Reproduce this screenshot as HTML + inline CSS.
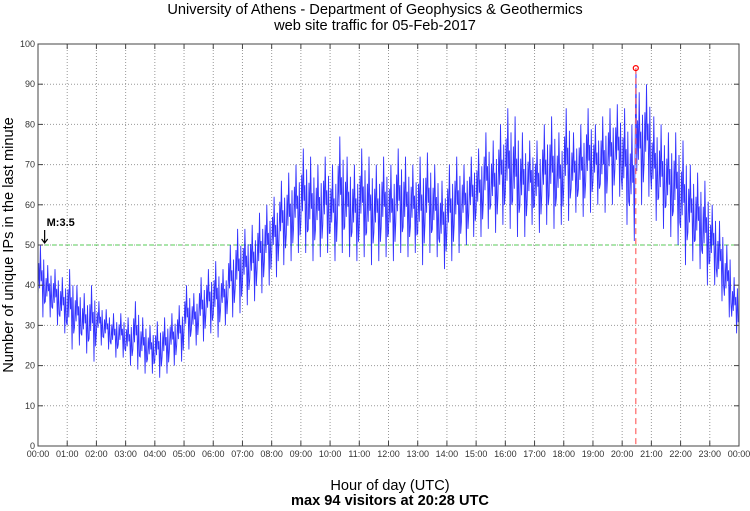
<!DOCTYPE html>
<html><head><meta charset="utf-8"><style>
body{margin:0;background:#fff;}
svg{display:block;font-family:"Liberation Sans",sans-serif;}
</style></head><body>
<svg id="chart" width="750" height="511" viewBox="0 0 750 511">
<text x="375" y="14" font-size="14.6" text-anchor="middle">University of Athens - Department of Geophysics &amp; Geothermics</text>
<text x="375" y="30" font-size="14.6" text-anchor="middle">web site traffic for 05-Feb-2017</text>
<g id="grid"></g>
<g id="marks"></g>
<rect x="38" y="44" width="701" height="402" fill="none" stroke="#444" stroke-width="1"/>
<g id="ticks"></g>
<text transform="translate(13,245) rotate(-90)" font-size="14.6" text-anchor="middle">Number of unique IPs in the last minute</text>
<text x="390" y="490" font-size="14.6" text-anchor="middle">Hour of day (UTC)</text>
<text x="390" y="505" font-size="14.6" text-anchor="middle" font-weight="bold">max 94 visitors at 20:28 UTC</text>
</svg>
<script>
const yTicks=[0,10,20,30,40,50,60,70,80,90,100];
const xTickLabels=["00:00","01:00","02:00","03:00","04:00","05:00","06:00","07:00","08:00","09:00","10:00","11:00","12:00","13:00","14:00","15:00","16:00","17:00","18:00","19:00","20:00","21:00","22:00","23:00","00:00"];
// 15-minute slots: low and high of visitors
const lows=[32,32,30,28, 24,25,23,21, 25,24,22,22, 20,19,18,18, 17,18,20,21, 24,25,26,28, 27,30,32,33, 35,36,38,40, 42,45,46,48, 48,46,47,48, 46,48,47,46, 47,45,46,47, 46,48,47,48, 45,48,47,44, 46,48,50,52, 52,54,53,55, 54,52,52,55, 53,55,54,55, 56,58,57,58, 60,58,60,62, 55,51,60,62, 56,54,52,50, 45,46,44,40, 40,36,32,28];
const highs=[50,45,44,42, 44,40,38,40, 36,34,33,33, 32,36,32,30, 31,32,33,35, 40,38,42,44, 46,44,50,54, 54,55,58,60, 62,66,68,70, 74,72,70,72, 70,77,72,70, 74,72,70,72, 70,74,72,70, 72,73,70,66, 70,72,70,72, 74,78,76,80, 84,82,78,76, 76,80,82,78, 84,78,80,84, 80,82,84,85, 84,80,88,90, 82,80,78,78, 76,70,68,66, 60,56,50,42];
const maxValue=94, maxHour=20+28/60, thresholdValue=50, quakeHour=0.33, quakeLabel="M:3.5";

const X0=38,X1=739,Y0=446,Y1=44;
const xs=h=>X0+(X1-X0)*h/24;
const ys=v=>Y0-(Y0-Y1)*v/100;
const NS="http://www.w3.org/2000/svg";
function mk(tag,attrs,parent){const e=document.createElementNS(NS,tag);for(const k in attrs)e.setAttribute(k,attrs[k]);parent.appendChild(e);return e;}
const grid=document.getElementById('grid'),ticks=document.getElementById('ticks'),marks=document.getElementById('marks');
yTicks.forEach(v=>{
 const l=mk('line',{x1:X0,x2:X1,y1:ys(v),y2:ys(v),stroke:'#999','stroke-dasharray':'1,2'},grid);
 
 
 mk('line',{x1:X0,x2:X0+5,y1:ys(v),y2:ys(v),stroke:'#444'},ticks);
 mk('line',{x1:X1-5,x2:X1,y1:ys(v),y2:ys(v),stroke:'#444'},ticks);
 const t=mk('text',{x:X0-3,y:ys(v)+3,'font-size':9,'text-anchor':'end',fill:'#333'},ticks);
 t.textContent=v;
 
 
});
xTickLabels.forEach((lab,i)=>{
 const x=xs(i);
 const l=mk('line',{x1:x,x2:x,y1:Y1,y2:Y0,stroke:'#999','stroke-dasharray':'1,2'},grid);
 
 
 mk('line',{x1:x,x2:x,y1:Y0-5,y2:Y0,stroke:'#444'},ticks);
 mk('line',{x1:x,x2:x,y1:Y1,y2:Y1+5,stroke:'#444'},ticks);
 const t=mk('text',{x:x,y:Y0+11,'font-size':9,'text-anchor':'middle',fill:'#333'},ticks);
 t.textContent=lab;
 
 
});
// threshold
const th=mk('line',{x1:X0,x2:X1,y1:ys(thresholdValue),y2:ys(thresholdValue),stroke:'#5c5','stroke-dasharray':'4,3'},marks);


// series
let pts=[];const sub=9;
const maxSlot=Math.floor(maxHour*4);
lows.forEach((lo,i)=>{
 const hi=highs[i],r=hi-lo,m=(lo+hi)/2;
 const seq=[m-0.2*r,m+0.25*r,m-0.1*r,hi,m,m+0.15*r,lo,m+0.3*r,m-0.3*r];
 for(let k=0;k<sub;k++){
  const h=(i+k/sub)/4;
  let v=seq[k];
  if(i===maxSlot&&k===Math.round((maxHour*4-i)*sub))v=maxValue;
  pts.push(xs(h).toFixed(1)+','+ys(v).toFixed(1));
 }
});
const pl=mk('polyline',{points:pts.join(' '),fill:'none',stroke:'#00f','stroke-width':0.9,'stroke-opacity':0.8},marks);


// max
const mx=xs(maxHour);
const ml=mk('line',{x1:mx,x2:mx,y1:ys(maxValue),y2:Y0,stroke:'#f66','stroke-dasharray':'6,4','stroke-width':1.2},marks);


const mc=mk('circle',{cx:mx,cy:ys(maxValue),r:2.5,fill:'none',stroke:'#f00','stroke-width':1.2},marks);


// quake annotation
const qx=xs(quakeHour);
const qa=mk('path',{d:`M${qx-3},${ys(thresholdValue)-15} L${qx-3},${ys(thresholdValue)-2} M${qx-6},${ys(thresholdValue)-6} L${qx-3},${ys(thresholdValue)-2} L${qx},${ys(thresholdValue)-6}`,fill:'none',stroke:'#000','stroke-width':1.2},marks);


const ql=mk('text',{x:qx-1,y:ys(thresholdValue)-19,'font-size':11,'font-weight':'bold'},marks);
ql.textContent=quakeLabel;


</script>
</body></html>
